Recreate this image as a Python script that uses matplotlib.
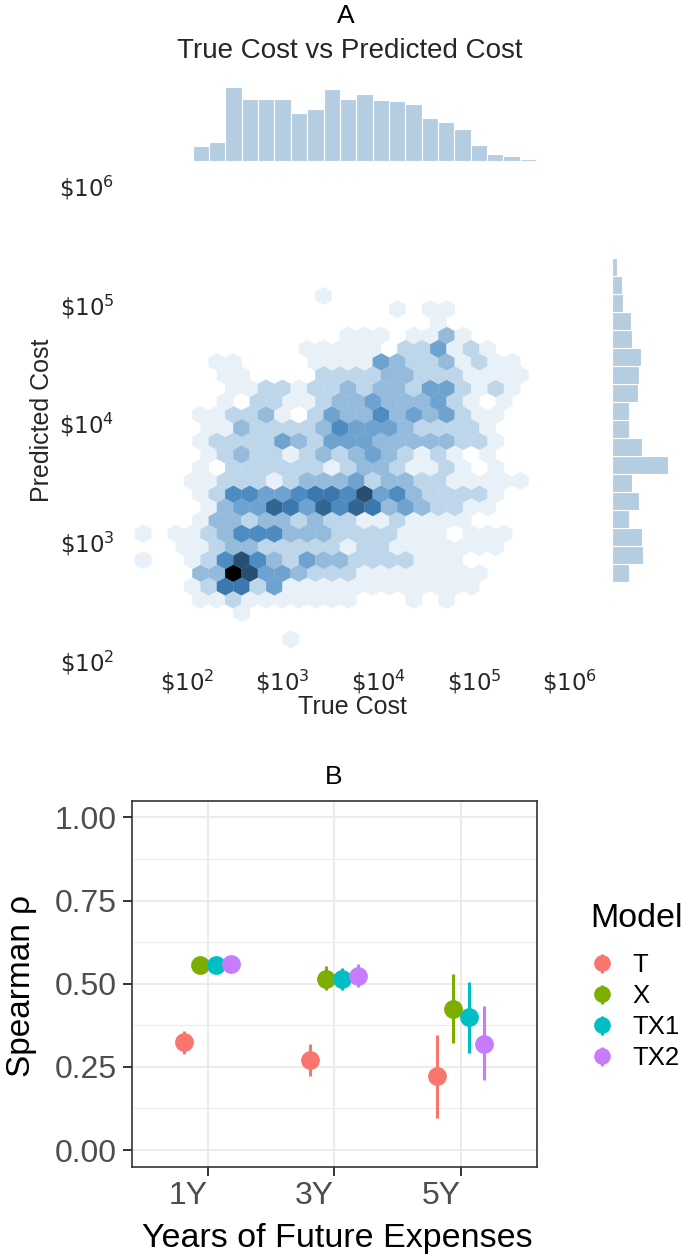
import colorsys
import numpy as np
import matplotlib
matplotlib.use("Agg")
import matplotlib.pyplot as plt
from matplotlib.colors import LinearSegmentedColormap
from matplotlib.legend_handler import HandlerErrorbar
from matplotlib.container import ErrorbarContainer

plt.rcParams["font.family"] = ["Liberation Sans", "DejaVu Sans"]
plt.rcParams["mathtext.fontset"] = "dejavusans"

# ---------------- Panel A data ----------------
# top marginal: histogram of log10(true cost) (relative bar heights)
true_hist_start = 2.06
true_hist_binw = 0.1707
true_hist_counts = [14.7, 19.3, 73.7, 62, 61.7, 61.7, 48, 52.3, 72.3, 61.7, 67,
                    61, 60, 56.7, 42.7, 38.7, 31.7, 15.7, 6.7, 5, 1.7, 0.7]

# right marginal: histogram of log10(predicted cost), bottom to top
pred_hist_start = 2.505
pred_hist_binw = 0.1516
pred_hist_counts = [1, 17, 31, 30, 17, 27, 20, 56, 30, 17, 17, 26, 27, 29,
                    20, 19, 11, 10, 5, 1]

# hexbin cells: hex row index, first column index, density level per cell
hex_row = [21, 20, 19, 18, 17, 16, 15, 14, 13, 12, 11, 10, 9, 8, 7, 6, 5, 4,
           3, 2, 1, 0, -1, -2, -3, -5]
hex_col0 = [5, 10, 12, 7, 4, -1, -1, 0, -1, -2, -2, -2, -2, -2, -3, -2, -2, -2,
            -6, -3, -6, -2, -3, -2, 0, 3]
hex_levels = [
    "1",
    "1011",
    "1",
    "11101131",
    "111110224121",
    "1100001111432231211",
    "1100002222332221111",
    "112212232332442121",
    "102211233433342101",
    "1122310243353434211",
    "113222235444322221",
    "1222243244433333221",
    "123221232343212101",
    "1022222212332112101",
    "112221233342332211111",
    "1255445665845322221",
    "134476475763432211",
    "13323323221121111",
    "10112355533322221110111",
    "11233222221221111111",
    "10012585324332222111",
    "339844322211111111",
    "126624111111111111",
    "1121111111000101",
    "1",
    "1",
]
level_count = [0, 6, 17, 28, 38, 47, 55, 62, 70, 100]

# hex grid (log10 units): reference cell centre and spacings
HEX_X0, HEX_Y0 = 2.484, 2.730
HEX_DX, HEX_DY = 0.1713, 0.1112

tick_vals_A = [2, 3, 4, 5, 6]
tick_labels_A = [r"$\$10^{%d}$" % v for v in tick_vals_A]

# ---------------- Panel B data ----------------
horizons = ["1Y", "3Y", "5Y"]
models = ["T", "X", "TX1", "TX2"]
model_colors = ["#F8766D", "#7CAE00", "#00BFC4", "#C77CFF"]
rho_mean = {"T": [0.325, 0.270, 0.222], "X": [0.555, 0.515, 0.423],
            "TX1": [0.556, 0.513, 0.400], "TX2": [0.560, 0.522, 0.320]}
rho_lo = {"T": [0.290, 0.222, 0.095], "X": [0.545, 0.482, 0.322],
          "TX1": [0.546, 0.480, 0.293], "TX2": [0.550, 0.489, 0.212]}
rho_hi = {"T": [0.358, 0.318, 0.347], "X": [0.565, 0.552, 0.528],
          "TX1": [0.566, 0.547, 0.505], "TX2": [0.570, 0.559, 0.432]}

# ---------------- figure ----------------
W, H = 685, 1257
fig = plt.figure(figsize=(W / 100, H / 100), dpi=100)


def px_axes(l, t, r, b):
    return fig.add_axes([l / W, 1 - b / H, (r - l) / W, (b - t) / H])


xlim_A = (1.3003, 6.3655)
ylim_A = (1.933, 6.168)

ax = px_axes(120, 165, 605, 668)
ax_top = px_axes(120, 85, 605, 161)
ax_right = px_axes(612, 165, 685, 668)

# colormap as seaborn jointplot hex (lightness 1 -> 0 of a steel blue)
h, l, s = colorsys.rgb_to_hls(70 / 255, 130 / 255, 180 / 255)
cmap = LinearSegmentedColormap.from_list(
    "sb_hex", [colorsys.hls_to_rgb(h, li, 0.5) for li in np.linspace(1, 0, 12)])

xs, ys, cs = [], [], []
for k, j0, levs in zip(hex_row, hex_col0, hex_levels):
    for i, ch in enumerate(levs):
        lev = int(ch)
        if lev == 0:
            continue
        j = j0 + i
        xs.append(HEX_X0 + (j + 0.5 * (k % 2)) * HEX_DX)
        ys.append(HEX_Y0 + k * HEX_DY)
        cs.append(level_count[lev])

nx, ny = 28, 15
xmin = HEX_X0 - 7 * HEX_DX
ymin = HEX_Y0 - 3 * 2 * HEX_DY
ax.hexbin(xs, ys, C=cs, reduce_C_function=np.sum, gridsize=(nx, ny),
          extent=(xmin, xmin + nx * HEX_DX, ymin, ymin + ny * 2 * HEX_DY),
          cmap=cmap, vmin=0, vmax=100, linewidths=0.2, edgecolors="face")
ax.set_xlim(*xlim_A)
ax.set_ylim(*ylim_A)
for sp in ax.spines.values():
    sp.set_visible(False)
ax.set_xticks(tick_vals_A)
ax.set_xticklabels(tick_labels_A)
ax.set_yticks(tick_vals_A)
ax.set_yticklabels(tick_labels_A)
ax.tick_params(length=0, labelsize=16.5, colors="#262626")
ax.tick_params(axis="x", pad=0)
ax.tick_params(axis="y", pad=4)
ax.set_xlabel("True Cost", fontsize=18, color="#262626")
ax.xaxis.set_label_coords((352 - 120) / 485, (668 - 707) / 503)
ax.xaxis.label.set_va("center")
ax.set_ylabel("Predicted Cost", fontsize=18, color="#262626")
ax.yaxis.set_label_coords((42 - 120) / 485, (668 - 420) / 503)
ax.yaxis.label.set_va("center")

hist_color = "#b5cde1"
edges_t = true_hist_start + true_hist_binw * np.arange(len(true_hist_counts))
ax_top.bar(edges_t, true_hist_counts, width=true_hist_binw, align="edge",
           color=hist_color, edgecolor="white", linewidth=0.8)
ax_top.set_xlim(*xlim_A)
ax_top.set_ylim(0, 76)
ax_top.axis("off")

edges_p = pred_hist_start + pred_hist_binw * np.arange(len(pred_hist_counts))
ax_right.barh(edges_p, pred_hist_counts, height=pred_hist_binw, align="edge",
              color=hist_color, edgecolor="white", linewidth=0.8)
ax_right.set_ylim(*ylim_A)
ax_right.set_xlim(0, 73)
ax_right.axis("off")

fig.text(346 / W, 1 - 16 / H, "A", ha="center", va="center", fontsize=19)
fig.text(350 / W, 1 - 51 / H, "True Cost vs Predicted Cost", ha="center",
         va="center", fontsize=20, color="#262626")

# ---------------- Panel B ----------------
axb = px_axes(131.7, 800.7, 536.7, 1166.7)
axb.set_xlim(0.4, 3.6)
axb.set_ylim(-0.05, 1.05)
axb.set_axisbelow(True)
for yv in [0.125, 0.375, 0.625, 0.875]:
    axb.axhline(yv, color="#EBEBEB", lw=0.75, zorder=0)
axb.grid(True, which="major", color="#EBEBEB", lw=1.5)

offsets = [-0.1875, -0.0625, 0.0625, 0.1875]
xpos = np.arange(1, len(horizons) + 1)
handles = []
for m, c, off in zip(models, model_colors, offsets):
    mean = np.array(rho_mean[m])
    lo = np.array(rho_lo[m])
    hi = np.array(rho_hi[m])
    eb = axb.errorbar(xpos + off, mean, yerr=[mean - lo, hi - mean], fmt="o",
                      color=c, ms=12.5, elinewidth=2.2, capsize=0, label=m,
                      zorder=3)
    handles.append(eb)

axb.set_xticks(xpos)
axb.set_xticklabels(horizons, ha="right")
axb.set_yticks([0, 0.25, 0.5, 0.75, 1.0])
axb.set_yticklabels(["0.00", "0.25", "0.50", "0.75", "1.00"])
axb.tick_params(length=6.5, width=1.4, color="#333333", labelsize=23,
                labelcolor="#4D4D4D", pad=4)
for sp in axb.spines.values():
    sp.set_color("#333333")
    sp.set_linewidth(1.2)

axb.set_xlabel("Years of Future Expenses", fontsize=24.5)
axb.xaxis.set_label_coords((337 - 131.7) / 405, (1166.7 - 1238) / 366)
axb.xaxis.label.set_va("center")
axb.set_ylabel("Spearman ρ", fontsize=24)
axb.yaxis.set_label_coords((22 - 131.7) / 405, (1166.7 - 986) / 366)
axb.yaxis.label.set_va("center")

fig.text(334 / W, 1 - 777 / H, "B", ha="center", va="center", fontsize=19)

leg = fig.legend(handles=handles, labels=models, title="Model",
                 loc="upper left", bbox_to_anchor=(590 / W, 1 - 903 / H),
                 frameon=False, fontsize=18.5, title_fontsize=24.5,
                 numpoints=1, markerscale=0.88, handlelength=0.95,
                 handletextpad=0.7, labelspacing=0.27, borderpad=0,
                 borderaxespad=0,
                 handler_map={ErrorbarContainer: HandlerErrorbar(yerr_size=0.38)})
leg._legend_box.align = "left"
leg._legend_box.sep = 14

fig.savefig("out.png", dpi=100)
